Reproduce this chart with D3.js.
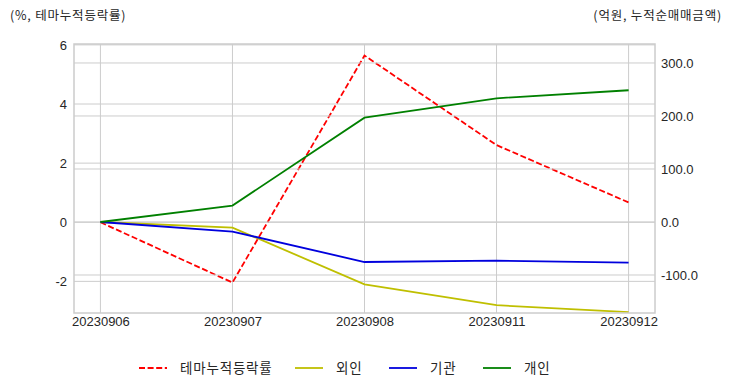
<!DOCTYPE html>
<html>
<head>
<meta charset="utf-8">
<script src="https://cdn.jsdelivr.net/npm/d3@7"></script>
<style>
  body { margin: 0; background: #fff; }
  text { font-family: "Liberation Sans", Arial, sans-serif; fill: #262626; }
  .kr { font-family: "Noto Sans CJK KR", sans-serif; }
</style>
</head>
<body>
<svg id="chart" width="732" height="392"></svg>
<script>
const dates = ["20230906", "20230907", "20230908", "20230911", "20230912"];
const themeReturn = [0, -2.04, 5.64, 2.61, 0.67];
const foreign = [0, -10.5, -117.5, -157, -170];
const institution = [0, -18, -75.5, -73, -76.8];
const individual = [0, 31, 196.8, 233.4, 248.5];
const leftTicks = [-2, 0, 2, 4, 6];
const rightTicks = [-100, 0, 100, 200, 300];

const svg = d3.select("#chart");
const plot = { left: 74, right: 655, top: 44, bottom: 313 };

const x = d3.scaleLinear().domain([-0.2, dates.length - 0.8]).range([plot.left, plot.right]);
const yLeft = d3.scaleLinear().domain([-3.07, 6.03]).range([plot.bottom, plot.top]);
const yRight = d3.scaleLinear().domain([-171.7, 335.8]).range([plot.bottom, plot.top]);

const gridColor = "#cccccc";
const lineWidth = 1.8;

// gridlines (left axis)
svg.append("g")
  .selectAll("line")
  .data(leftTicks)
  .join("line")
  .attr("x1", plot.left).attr("x2", plot.right)
  .attr("y1", (d) => yLeft(d)).attr("y2", (d) => yLeft(d))
  .attr("stroke", gridColor).attr("stroke-width", 1);

// vertical gridlines
svg.append("g")
  .selectAll("line")
  .data(dates)
  .join("line")
  .attr("x1", (d, i) => x(i)).attr("x2", (d, i) => x(i))
  .attr("y1", plot.top).attr("y2", plot.bottom)
  .attr("stroke", gridColor).attr("stroke-width", 1);

// theme return line (left axis)
const lineLeft = d3.line().x((d, i) => x(i)).y((d) => yLeft(d));
svg.append("path")
  .attr("d", lineLeft(themeReturn))
  .attr("fill", "none")
  .attr("stroke", "#ff0000")
  .attr("stroke-width", lineWidth)
  .attr("stroke-dasharray", "6,2.6");

// gridlines (right axis)
svg.append("g")
  .selectAll("line")
  .data(rightTicks)
  .join("line")
  .attr("x1", plot.left).attr("x2", plot.right)
  .attr("y1", (d) => yRight(d)).attr("y2", (d) => yRight(d))
  .attr("stroke", gridColor).attr("stroke-width", 1);

const lineRight = d3.line().x((d, i) => x(i)).y((d) => yRight(d));
const rightSeries = [
  { values: foreign, color: "#bfbf00" },
  { values: institution, color: "#0000dd" },
  { values: individual, color: "#008000" },
];
svg.append("defs").append("clipPath").attr("id", "clip")
  .append("rect")
  .attr("x", plot.left).attr("y", plot.top)
  .attr("width", plot.right - plot.left).attr("height", plot.bottom - plot.top);

rightSeries.forEach((s) => {
  svg.append("path")
    .attr("d", lineRight(s.values))
    .attr("fill", "none")
    .attr("stroke", s.color)
    .attr("stroke-width", lineWidth)
    .attr("clip-path", "url(#clip)");
});

// frame
svg.append("rect")
  .attr("x", plot.left).attr("y", plot.top)
  .attr("width", plot.right - plot.left).attr("height", plot.bottom - plot.top)
  .attr("fill", "none").attr("stroke", gridColor).attr("stroke-width", 1.5);

// axes
const fontSize = "13px";
const leftAxis = svg.append("g")
  .attr("transform", `translate(${plot.left},0)`)
  .call(d3.axisLeft(yLeft).tickValues(leftTicks).tickSize(0).tickPadding(7).tickFormat(d3.format("d")));
const rightAxis = svg.append("g")
  .attr("transform", `translate(${plot.right},0)`)
  .call(d3.axisRight(yRight).tickValues(rightTicks).tickSize(0).tickPadding(6).tickFormat(d3.format(".1f")));
const bottomAxis = svg.append("g")
  .attr("transform", `translate(0,${plot.bottom})`)
  .call(d3.axisBottom(x).tickValues(d3.range(dates.length)).tickSize(0).tickPadding(4).tickFormat((i) => dates[i]));

[leftAxis, rightAxis, bottomAxis].forEach((g) => {
  g.select(".domain").remove();
  g.selectAll("text")
    .attr("font-family", "Liberation Sans, Arial, sans-serif")
    .attr("font-size", fontSize)
    .attr("fill", "#262626");
});
leftAxis.selectAll("text").text((d) => (d < 0 ? "-" + Math.abs(d) : d));
rightAxis.selectAll("text").text((d) => (d < 0 ? "-" + d3.format(".1f")(Math.abs(d)) : d3.format(".1f")(d)));

// axis titles
svg.append("text")
  .attr("class", "kr")
  .attr("x", 10).attr("y", 20)
  .attr("font-size", "12.5px")
  .attr("letter-spacing", "0.8px")
  .text("(%, 테마누적등락률)");
svg.append("text")
  .attr("class", "kr")
  .attr("x", 722).attr("y", 20)
  .attr("text-anchor", "end")
  .attr("font-size", "12.5px")
  .attr("letter-spacing", "0.8px")
  .text("(억원, 누적순매매금액)");

// legend
const legendItems = [
  { name: "테마누적등락률", color: "#ff0000", dash: "6,2.6", x: 139 },
  { name: "외인", color: "#bfbf00", dash: null, x: 295 },
  { name: "기관", color: "#0000dd", dash: null, x: 389 },
  { name: "개인", color: "#008000", dash: null, x: 483 },
];
const legendY = 368;
legendItems.forEach((item) => {
  svg.append("line")
    .attr("x1", item.x).attr("x2", item.x + 28)
    .attr("y1", legendY).attr("y2", legendY)
    .attr("stroke", item.color)
    .attr("stroke-width", lineWidth)
    .attr("stroke-dasharray", item.dash);
  svg.append("text")
    .attr("class", "kr")
    .attr("x", item.x + 41).attr("y", legendY)
    .attr("dy", "0.35em")
    .attr("font-size", "13.5px")
    .attr("letter-spacing", "0.8px")
    .text(item.name);
});
</script>
</body>
</html>
